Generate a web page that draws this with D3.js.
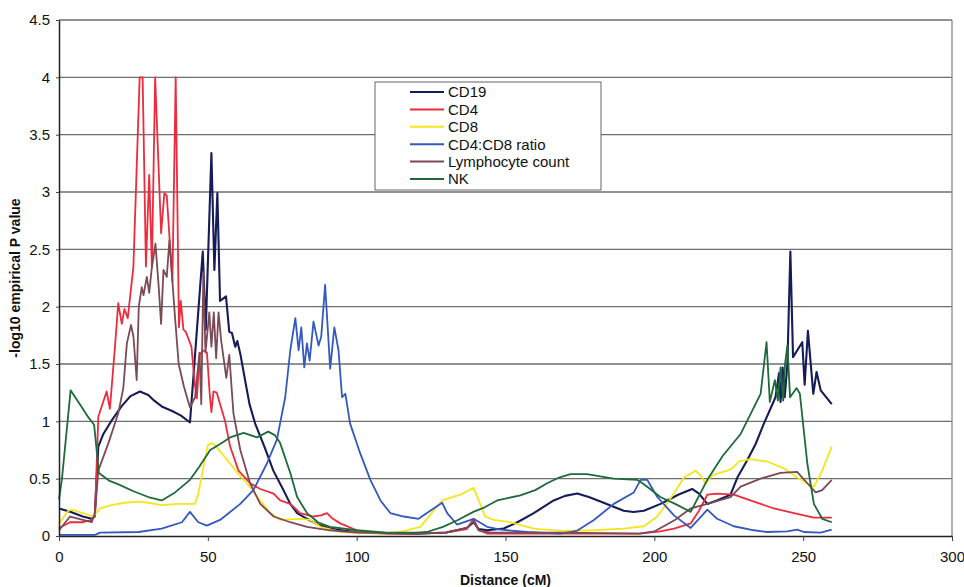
<!DOCTYPE html>
<html>
<head>
<meta charset="utf-8">
<script src="https://cdn.jsdelivr.net/npm/d3@7"></script>
<style>
  body { margin: 0; background: #fff; }
  svg { font-family: "Liberation Sans", Arial, sans-serif; }
</style>
</head>
<body>
<svg class="chart"></svg>
<script>
// series: [distance cM, -log10 P]
var cd19 = [[0,0.24],[4,0.21],[8,0.17],[11,0.15],[12,0.17],[13.2,0.78],[14.9,0.89],[18,1.02],[21,1.13],[24,1.22],[27.2,1.26],[30,1.23],[32,1.18],[34.5,1.13],[38,1.09],[41,1.05],[44,0.99],[48.3,2.48],[49.3,1.8],[51.2,3.34],[52.2,2.32],[53.2,2.99],[54.1,2.05],[56.1,2.09],[57.2,1.78],[58.1,1.77],[59.2,1.65],[59.9,1.7],[60.9,1.59],[62.5,1.36],[64,1.15],[65.9,0.98],[69,0.78],[72,0.57],[75,0.42],[77.7,0.28],[80,0.2],[83.3,0.15],[87,0.1],[91,0.065],[96,0.045],[100,0.035],[110,0.025],[120,0.02],[130,0.03],[137,0.07],[139.3,0.12],[141,0.06],[144,0.05],[149.4,0.065],[154,0.12],[159.5,0.2],[166.2,0.31],[170,0.35],[174.1,0.37],[178,0.34],[181.9,0.3],[189.7,0.22],[193,0.21],[196.5,0.22],[202.1,0.28],[204.3,0.31],[208,0.36],[212.7,0.41],[215,0.37],[217.8,0.28],[221,0.31],[225.6,0.36],[227.9,0.51],[231.2,0.66],[234,0.8],[236.8,0.98],[240.7,1.21],[241.9,1.42],[242.4,1.17],[243.1,1.47],[243.8,1.21],[244.7,1.5],[245.7,2.48],[246.6,1.56],[249.7,1.69],[250.5,1.32],[251.6,1.79],[253.4,1.24],[254.5,1.43],[255.9,1.27],[259.6,1.15]];

var cd4 = [[0,0.07],[3.7,0.12],[8,0.12],[11,0.14],[12.1,0.2],[13.2,1.04],[16,1.26],[17.1,1.11],[18.8,1.65],[19.9,2.03],[21.1,1.85],[22,1.98],[23.1,1.9],[25,2.35],[27.1,4.0],[28.1,4.0],[29.2,2.35],[30.3,3.15],[31.2,2.35],[32.3,4.0],[34.3,2.64],[35.4,2.99],[36.2,2.97],[38.1,2.22],[39.2,4.0],[40.3,1.82],[40.9,2.05],[41.8,1.8],[42.6,1.78],[44.5,1.65],[45.6,1.33],[46.3,1.2],[47.3,1.58],[48.3,1.62],[49.7,1.6],[50.6,1.25],[51.2,1.08],[51.9,1.26],[53,1.25],[55.8,1.0],[57.5,0.78],[60.3,0.57],[64.2,0.46],[67.6,0.41],[72.1,0.37],[74.3,0.31],[77.7,0.28],[81,0.2],[85.5,0.17],[88,0.18],[90,0.2],[92,0.15],[94.5,0.11],[100,0.05],[108,0.02],[120,0.02],[130,0.03],[137,0.06],[139.3,0.15],[141,0.05],[144,0.02],[160,0.02],[180,0.02],[195,0.02],[202,0.04],[206.6,0.065],[212.2,0.11],[215,0.22],[217.8,0.36],[221.1,0.37],[226.7,0.36],[233.5,0.3],[240.2,0.24],[246.9,0.2],[253.6,0.16],[259.6,0.16]];

var cd8 = [[0,0.11],[3.1,0.22],[4.3,0.23],[8,0.2],[11.5,0.17],[13.8,0.24],[17.7,0.27],[22,0.29],[26.7,0.3],[30,0.29],[34.5,0.27],[40,0.28],[45.7,0.28],[46.8,0.37],[48.5,0.6],[50,0.79],[51.5,0.81],[52.5,0.79],[55,0.71],[57.5,0.63],[60,0.55],[63.1,0.46],[67.6,0.31],[71,0.2],[74.3,0.14],[81,0.15],[84.4,0.14],[87.8,0.08],[94.5,0.035],[108,0.02],[114.7,0.035],[121.4,0.08],[128.7,0.31],[134.8,0.36],[139.3,0.42],[143.2,0.17],[146,0.14],[151.6,0.12],[159.5,0.065],[168.5,0.045],[179.7,0.05],[189.7,0.065],[196.5,0.085],[201,0.17],[206.6,0.37],[209.9,0.51],[213.9,0.57],[215.5,0.53],[217.2,0.46],[219.5,0.53],[224.5,0.57],[226.2,0.59],[228.4,0.65],[232.3,0.67],[237.9,0.65],[243.5,0.59],[248,0.51],[251.4,0.46],[253.6,0.43],[256.4,0.57],[259.6,0.78]];

var ratio = [[0,0.01],[12.1,0.01],[13.8,0.03],[26.7,0.035],[34.5,0.065],[41.3,0.12],[44,0.21],[46.8,0.12],[49.7,0.09],[54.1,0.14],[60.9,0.28],[65.3,0.4],[69.8,0.63],[73.2,0.84],[76,1.21],[77.7,1.62],[79.4,1.9],[80.5,1.62],[81.4,1.82],[82.4,1.47],[83.3,1.68],[84.2,1.53],[85.5,1.87],[87.2,1.66],[88.1,1.74],[89.4,2.19],[91.1,1.46],[92.5,1.82],[93.9,1.62],[95.1,1.21],[96.2,1.24],[97.8,0.98],[101.2,0.72],[104.6,0.49],[108,0.31],[111.3,0.2],[115.8,0.17],[120.8,0.15],[123.6,0.2],[128.7,0.29],[130.4,0.2],[133.7,0.1],[139.3,0.15],[143.8,0.08],[148.3,0.055],[157.3,0.035],[168.5,0.02],[174,0.045],[179.7,0.14],[186.4,0.28],[193.1,0.38],[195.4,0.49],[197.6,0.49],[201,0.34],[206.6,0.18],[212.2,0.07],[215,0.15],[217.8,0.23],[221.1,0.15],[226.7,0.085],[233.5,0.05],[237.9,0.035],[244.7,0.04],[248,0.055],[250.3,0.035],[255.9,0.03],[259.6,0.055]];

var lymph = [[0,0.05],[3.7,0.17],[8,0.14],[11,0.12],[12.1,0.2],[13.2,0.57],[16.6,0.81],[19.9,1.07],[21.6,1.29],[22.8,1.68],[24.2,1.84],[25,1.74],[26.1,1.36],[26.8,2.0],[27.8,2.17],[28.4,2.1],[29.5,2.26],[30.3,2.12],[31.1,2.32],[32.4,2.55],[33.5,2.17],[34.3,1.85],[35.1,2.32],[36.2,2.26],[37.1,2.58],[38.1,2.22],[39,1.9],[40.2,1.5],[42,1.3],[44,1.12],[45.7,1.21],[47.2,1.6],[47.8,1.15],[48.5,2.3],[49.2,1.6],[50.5,1.95],[51.2,1.65],[52,1.95],[52.8,1.55],[53.6,1.95],[54.5,1.7],[56.2,1.38],[57.2,1.58],[58.6,1.07],[60.9,0.75],[64.2,0.46],[67.6,0.28],[72.1,0.17],[77.7,0.12],[83.3,0.08],[91,0.05],[100,0.03],[120,0.02],[130,0.03],[137,0.07],[139.3,0.13],[141,0.05],[145,0.03],[170,0.03],[195,0.02],[200,0.04],[206.9,0.14],[212.2,0.24],[217.8,0.28],[225.6,0.34],[229,0.43],[235.7,0.5],[242.4,0.55],[248,0.56],[251.4,0.46],[254.2,0.38],[256.4,0.4],[259.6,0.49]];

var nk = [[0,0.32],[1,0.5],[3.9,1.27],[7,1.15],[10,1.03],[11.8,0.97],[13.4,0.55],[17,0.48],[20,0.45],[25,0.39],[30,0.34],[34.5,0.31],[39,0.38],[44,0.49],[47,0.6],[50.8,0.75],[54,0.8],[57.5,0.86],[62,0.9],[66.5,0.86],[70.3,0.91],[72.5,0.88],[74.3,0.81],[77.7,0.55],[80,0.34],[83.3,0.2],[87,0.12],[91,0.08],[100,0.05],[110,0.03],[120,0.03],[123.6,0.035],[129,0.08],[134,0.14],[139.2,0.21],[143,0.25],[147.2,0.31],[155,0.355],[160,0.4],[164,0.46],[168,0.51],[171.8,0.54],[177.4,0.54],[186.3,0.5],[194.2,0.49],[195.4,0.47],[197.6,0.43],[202,0.34],[207,0.28],[212.2,0.21],[217.8,0.49],[223,0.7],[229,0.89],[235.7,1.24],[237.7,1.69],[238.8,1.17],[240.5,1.36],[241.5,1.18],[242.4,1.47],[243.3,1.18],[243.9,1.5],[244.7,1.66],[245.6,1.21],[247.8,1.29],[248.9,1.24],[251.4,0.63],[253.6,0.28],[256.4,0.15],[259.6,0.12]];

var seriesNames = ["CD19", "CD4", "CD8", "CD4:CD8 ratio", "Lymphocyte count", "NK"];
var seriesData = [cd19, cd4, cd8, ratio, lymph, nk];
var seriesColors = ["#161c58", "#ee2b3d", "#f4e61e", "#3558bf", "#7b4a56", "#1e6a3b"];

var xTicks = [0, 50, 100, 150, 200, 250, 300];
var yTicks = [0, 0.5, 1, 1.5, 2, 2.5, 3, 3.5, 4, 4.5];

var margin = {top: 20, left: 59, right: 12, bottom: 51},
    width = 964 - margin.left - margin.right,
    height = 587 - margin.top - margin.bottom;

var x = d3.scaleLinear().domain([0, 300]).range([0, width]);
var y = d3.scaleLinear().domain([0, 4.5]).range([height, 0]);

var svg = d3.select(".chart")
    .attr("width", 964)
    .attr("height", 587);

var g = svg.append("g")
    .attr("transform", "translate(" + margin.left + "," + margin.top + ")");

// gridlines
g.selectAll(".grid")
    .data(yTicks.slice(1))
  .enter().append("line")
    .attr("x1", 0).attr("x2", width)
    .attr("y1", function(d) { return y(d); })
    .attr("y2", function(d) { return y(d); })
    .attr("stroke", "#6e6e6e")
    .attr("stroke-width", 1.4);

// right border
g.append("line")
    .attr("x1", width).attr("x2", width)
    .attr("y1", 0).attr("y2", height)
    .attr("stroke", "#888")
    .attr("stroke-width", 1.3);

// the lines
var line = d3.line()
    .x(function(d) { return x(d[0]); })
    .y(function(d) { return y(d[1]); });

seriesData.forEach(function(s, i) {
  g.append("path")
    .datum(s)
    .attr("fill", "none")
    .attr("stroke", seriesColors[i])
    .attr("stroke-width", i == 0 ? 2.1 : 1.8)
    .attr("stroke-linejoin", "round")
    .attr("d", line);
});

// axes
var yAxis = g.append("g")
    .call(d3.axisLeft(y).tickValues(yTicks).tickFormat(d3.format("~g"))
      .tickSize(3).tickPadding(6).tickSizeOuter(0));
var xAxis = g.append("g")
    .attr("transform", "translate(0," + height + ")")
    .call(d3.axisBottom(x).tickValues(xTicks).tickFormat(d3.format("d"))
      .tickSize(5).tickPadding(10).tickSizeOuter(0));

[xAxis, yAxis].forEach(function(a) {
  a.select(".domain").attr("stroke", "#222").attr("stroke-width", 1.5);
  a.selectAll(".tick line").attr("stroke", "#444");
  a.selectAll("text")
    .attr("fill", "#111")
    .style("font-size", "15px")
    .style("font-family", "'Liberation Sans', Arial, sans-serif");
});

// axis titles
svg.append("text")
    .attr("x", margin.left + x(150))
    .attr("y", 585)
    .attr("text-anchor", "middle")
    .style("font-size", "14px")
    .style("font-weight", "bold")
    .attr("fill", "#111")
    .text("Distance (cM)");

svg.append("text")
    .attr("transform", "translate(20,278) rotate(-90)")
    .attr("text-anchor", "middle")
    .style("font-size", "14px")
    .style("font-weight", "bold")
    .attr("fill", "#111")
    .text("-log10 empirical P value");

// legend
var legend = svg.append("g").attr("transform", "translate(375,82)");
legend.append("rect")
    .attr("width", 226).attr("height", 108)
    .attr("fill", "#fff")
    .attr("stroke", "#666")
    .attr("stroke-width", 1);

var item = legend.selectAll(".item")
    .data(seriesNames)
  .enter().append("g")
    .attr("transform", function(d, i) { return "translate(0," + (10 + i * 17.4) + ")"; });

item.append("line")
    .attr("x1", 35).attr("x2", 69)
    .attr("stroke", function(d, i) { return seriesColors[i]; })
    .attr("stroke-width", 2);

item.append("text")
    .attr("x", 73)
    .attr("dy", "0.36em")
    .style("font-size", "15px")
    .attr("fill", "#111")
    .text(function(d) { return d; });
</script>
</body>
</html>
